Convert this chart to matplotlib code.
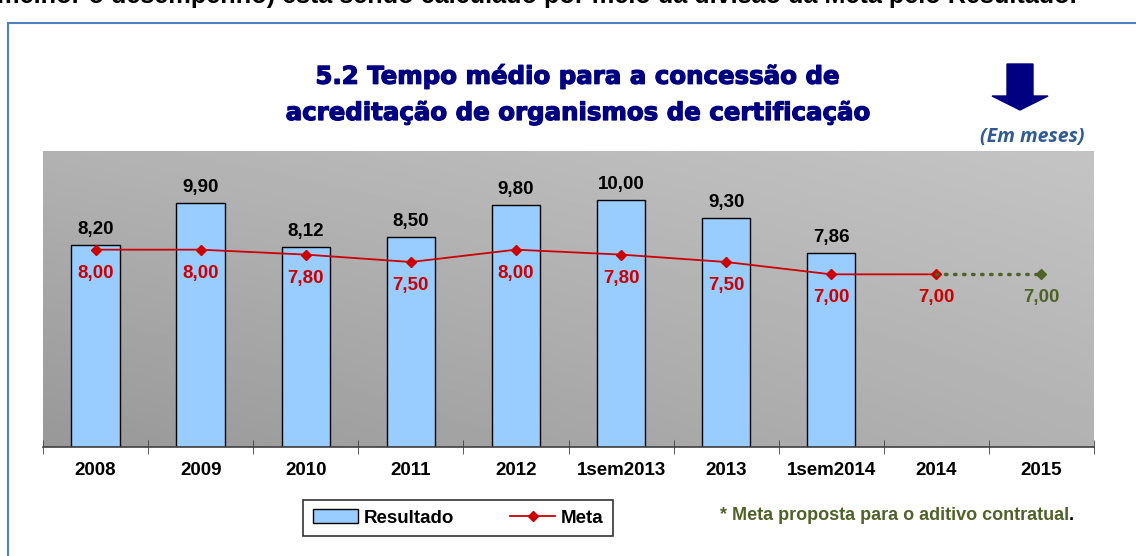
#!/usr/bin/env python3
"""
5.2 Tempo médio para a concessão de acreditação de organismos de certificação
"""

import numpy as np
import matplotlib
matplotlib.use('Agg')
import matplotlib.pyplot as plt
import matplotlib.patches as patches
import matplotlib.patheffects as pe
from matplotlib.lines import Line2D

plt.rcParams['font.family'] = ['Liberation Sans', 'DejaVu Sans']

# dados
categorias = ['2008', '2009', '2010', '2011', '2012', '1sem2013', '2013', '1sem2014', '2014', '2015']
resultado = [8.20, 9.90, 8.12, 8.50, 9.80, 10.00, 9.30, 7.86]
meta = [8.00, 8.00, 7.80, 7.50, 8.00, 7.80, 7.50, 7.00, 7.00]
meta_proposta = [7.00]   # 2015 (aditivo contratual)

W, H = 1136, 556
fig = plt.figure(figsize=(W / 100, H / 100), dpi=100)

# moldura da caixa do documento
fig.add_artist(Line2D([8 / W, 8 / W], [0, 1 - 23 / H], color='#4f81bd', lw=1.5))
fig.add_artist(Line2D([8 / W, 1], [1 - 23 / H, 1 - 23 / H], color='#4f81bd', lw=1.5))

# texto cortado da página acima
fig.text(-3 / W, 1 - 3 / H,
         'melhor o desempenho) está sendo calculado por meio da divisão da Meta pelo Resultado.',
         fontsize=18.2, fontweight='bold', ha='left', va='baseline', color='black')

ax = fig.add_axes([43 / W, (H - 447) / H, (1094 - 43) / W, (447 - 151) / H])

# fundo degradê
gx, gy = np.meshgrid(np.linspace(0, 1, 200), np.linspace(0, 1, 200))
grad = 152 + 26 * gx + 26 * gy - 8 * gx * gy
ax.imshow(grad, extent=[0, 1, 0, 1], transform=ax.transAxes, cmap='gray',
          vmin=0, vmax=255, aspect='auto', origin='lower', zorder=0)

x = np.arange(len(categorias))
xr = x[:len(resultado)]
xm = x[:len(meta)]
xp = x[len(meta) - 1:len(meta) + len(meta_proposta)]

ax.bar(xr, resultado, width=0.46, color='#99ccff', edgecolor='black',
       linewidth=1, zorder=2, label='Resultado')
ax.plot(xm, meta, color='#cc0000', lw=1.3, marker='D', markersize=5.5,
        zorder=3, label='Meta')
ax.plot(xp, [meta[-1]] + meta_proposta, color='#4f6228', lw=2.5, ls=(0, (0.4, 2.2)),
        dash_capstyle='round', zorder=3)
ax.plot(xp[-1:], meta_proposta, color='#4f6228', marker='D', markersize=5.5,
        ls='none', zorder=3)

for xi, v in zip(xr, resultado):
    ax.annotate(f'{v:.2f}'.replace('.', ','), (xi, v), xytext=(0, 5),
                textcoords='offset points', ha='center', va='bottom',
                fontsize=13.5, fontweight='bold', color='black', zorder=4)
for xi, v in zip(xm, meta):
    ax.annotate(f'{v:.2f}'.replace('.', ','), (xi, v), xytext=(0, -17),
                textcoords='offset points', ha='center', va='center',
                fontsize=13.5, fontweight='bold', color='#cc0000', zorder=4)
for xi, v in zip(xp[-1:], meta_proposta):
    ax.annotate(f'{v:.2f}'.replace('.', ','), (xi, v), xytext=(0, -17),
                textcoords='offset points', ha='center', va='center',
                fontsize=13.5, fontweight='bold', color='#4f6228', zorder=4)

ax.set_xlim(-0.5, len(categorias) - 0.5)
ax.set_ylim(0, 12)
ax.set_xticks(x)
ax.set_xticklabels(categorias, fontsize=13.5, fontweight='bold')
ax.set_xticks(np.arange(-0.5, len(categorias)), minor=True)
ax.tick_params(axis='x', which='major', length=0, pad=11)
ax.tick_params(axis='x', which='minor', length=10, direction='inout', color='#404040')
ax.set_yticks([])
for s in ['left', 'right', 'top']:
    ax.spines[s].set_visible(False)
ax.spines['bottom'].set_color('#404040')
ax.spines['bottom'].set_linewidth(1.2)

# título
stroke = [pe.withStroke(linewidth=0.9, foreground='#000080')]
fig.text(576 / W, 1 - 76 / H, '5.2 Tempo médio para a concessão de',
         ha='center', va='center', fontsize=17.6, fontweight='bold',
         family=['DejaVu Sans'], color='#000080', path_effects=stroke)
fig.text(576 / W, 1 - 113 / H, 'acreditação de organismos de certificação',
         ha='center', va='center', fontsize=17.6, fontweight='bold',
         family=['DejaVu Sans'], color='#000080', path_effects=stroke)

# seta
pts = [(1007, 64), (1033, 64), (1033, 96), (1048, 96), (1020, 110), (992, 96), (1007, 96)]
arrow = patches.Polygon([(px / W, 1 - py / H) for px, py in pts], closed=True,
                        transform=fig.transFigure, fc='#000080', ec='#000080')
fig.add_artist(arrow)
fig.text(1032 / W, 1 - 137 / H, '(Em meses)', ha='center', va='center',
         fontsize=14, fontstyle='italic', fontweight='bold', color='#2f5b96',
         family=['Open Sans', 'DejaVu Sans'])

# legenda
handles = [patches.Patch(facecolor='#99ccff', edgecolor='black', label='Resultado'),
           Line2D([], [], color='#cc0000', marker='D', markersize=5, lw=1.3, label='Meta')]
leg = fig.legend(handles=handles, loc='center', bbox_to_anchor=(458 / W, 1 - 518 / H),
                 ncol=2, frameon=True, fancybox=False, edgecolor='black',
                 prop={'size': 13.5, 'weight': 'bold'}, handlelength=2.4,
                 columnspacing=3.0, handletextpad=0.3, borderpad=0.5)
leg.get_frame().set_linewidth(1.2)

# nota de rodapé (ponto final em preto)
nota = fig.text(720 / W, 1 - 516 / H, '* Meta proposta para o aditivo contratual',
                ha='left', va='center', fontsize=13, fontweight='bold', color='#4f6228')
ax.annotate('.', xy=(1, 0), xycoords=nota, ha='left', va='bottom',
            fontsize=13, fontweight='bold', color='black', annotation_clip=False)

plt.savefig('out.png', dpi=100)
